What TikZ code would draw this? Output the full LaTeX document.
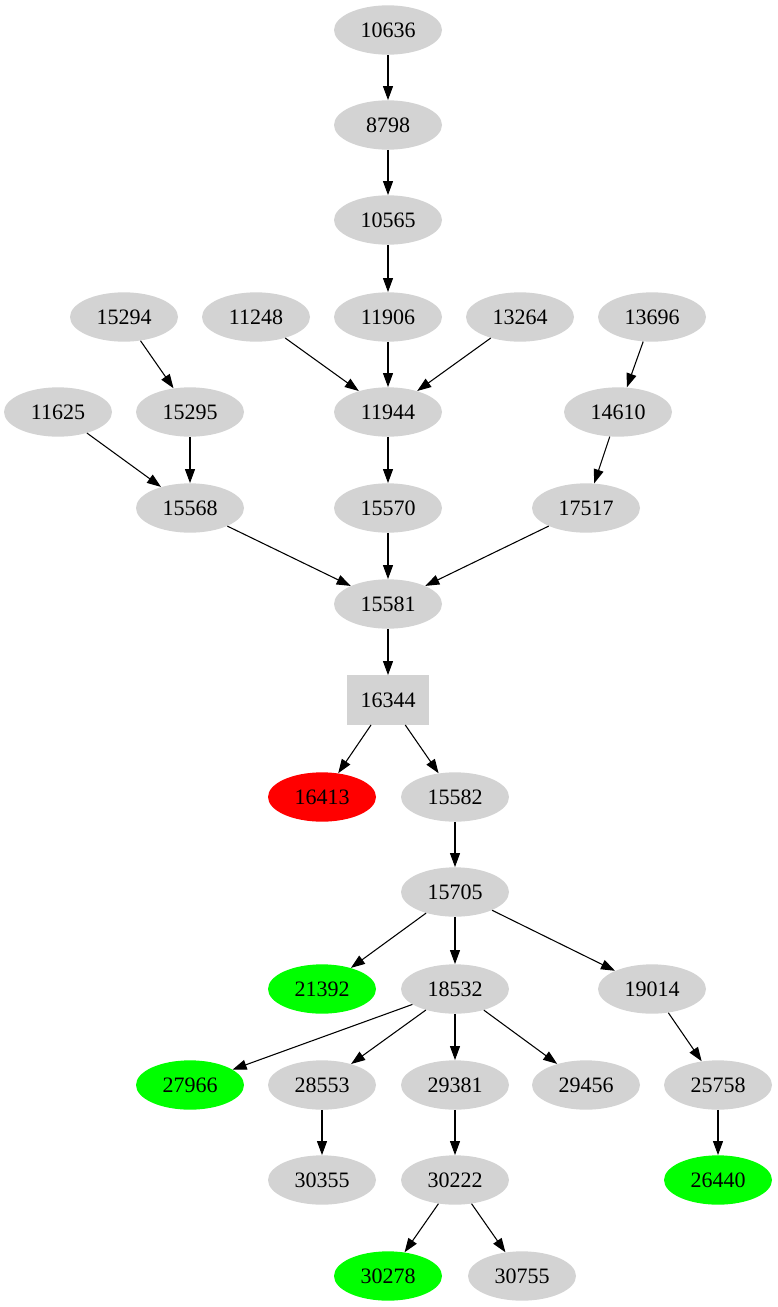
\documentclass[tikz,border=0pt]{standalone}
\usepackage{fontspec}
\setmainfont{Liberation Serif}
\usetikzlibrary{arrows.meta,shapes.geometric}
\definecolor{nodegray}{RGB}{211,211,211}
\definecolor{okgreen}{RGB}{0,255,0}
\tikzset{
  gnode/.style={ellipse, fill=nodegray, minimum width=81pt, minimum height=37pt, inner sep=0pt},
  boxnode/.style={rectangle, fill=nodegray, minimum width=62pt, minimum height=37pt, inner sep=0pt},
  edge/.style={-{Triangle[length=10.5pt,width=7.5pt]}, line width=0.8pt}
}
\begin{document}
\begin{tikzpicture}[font=\fontsize{16.5}{18}\selectfont, x=0.75pt, y=-0.75pt]
		\useasboundingbox (0,0) rectangle (778,1307);
		% grey nodes
		\foreach \val/\x/\y in {10636/388/30, 8798/388/125, 10565/388/220,
			15294/124/317, 11248/256/317, 11906/388/317, 13264/520/317, 13696/652/317,
			11625/58/412, 15295/190/412, 11944/388/412, 14610/618/412,
			15568/190/508, 15570/388/508, 17517/586/508, 15581/388/604,
			15582/455/797, 15705/455/892, 18532/455/989, 19014/652/989,
			28553/322/1085, 29381/455/1085, 29456/586/1085, 25758/718/1085,
			30355/322/1180, 30222/455/1180, 30755/522/1276}{
			\node[gnode] (n\val) at (\x,\y) {\val};
		}
		% box
		\node[boxnode] (n16344) at (388,700) {16344};
		% red
		\node[gnode, fill=red] (n16413) at (322,797) {16413};
		% green
		\node[gnode, fill=okgreen] (n21392) at (322,989) {21392};
		\node[gnode, fill=okgreen] (n27966) at (190,1085) {27966};
		\node[gnode, fill=okgreen] (n26440) at (718,1180) {26440};
		\node[gnode, fill=okgreen] (n30278) at (388,1276) {30278};
		% edges
		\foreach \a/\b in {10636/8798, 8798/10565, 10565/11906, 15294/15295,
			11248/11944, 11906/11944, 13264/11944, 13696/14610, 11625/15568,
			15295/15568, 11944/15570, 14610/17517, 15568/15581, 15570/15581,
			17517/15581, 15581/16344, 16344/16413, 16344/15582, 15582/15705,
			15705/21392, 15705/18532, 15705/19014, 18532/27966, 18532/28553,
			18532/29381, 18532/29456, 19014/25758, 28553/30355, 29381/30222,
			25758/26440, 30222/30278, 30222/30755}{
			\draw[edge] (n\a) -- (n\b);
		}
	\end{tikzpicture}
\end{document}
